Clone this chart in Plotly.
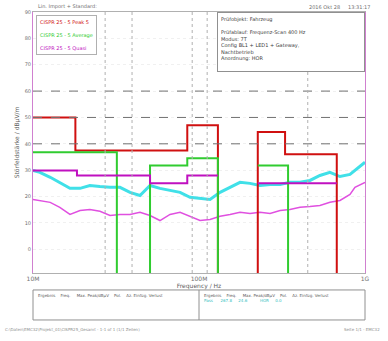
import plotly.graph_objects as go

# frequencies in MHz, levels in dBuV/m
peak_freq = [10, 11.0, 12.7, 14.5, 15.6, 16.7, 19.2, 22.0, 25.3, 29.1, 33.4, 38.4, 44.1, 50.7,
             58.2, 66.9, 76.9, 88.3, 101.4, 116.5, 133.9, 153.8, 176.7, 202.9, 233, 268,
             308, 353, 406, 466, 535, 615, 707, 812, 870, 1000]
peak_level = [29.9, 29.2, 27.3, 25.4, 24.2, 23.1, 23.1, 24.2, 23.8, 23.5, 23.5, 21.6, 20.4, 24.2,
              23.1, 22.3, 21.6, 19.7, 19.3, 18.9, 21.6, 23.5, 25.4, 25.0, 24.2, 24.6,
              24.6, 25.4, 25.4, 26.1, 28.0, 29.2, 27.6, 28.4, 29.9, 33.0]

avg_freq = [10, 11.0, 12.7, 14.5, 16.7, 19.2, 22.0, 25.3, 29.1, 33.4, 38.4, 44.1, 50.7, 58.2,
            66.9, 76.9, 88.3, 101.4, 116.5, 133.9, 153.8, 176.7, 202.9, 233, 268, 308,
            353, 406, 466, 535, 615, 707, 812, 870, 1000]
avg_level = [18.9, 18.5, 17.8, 15.9, 13.2, 14.7, 15.1, 14.4, 12.8, 13.2, 13.2, 14.0, 12.8, 10.9,
             13.2, 14.0, 12.5, 10.9, 11.3, 12.5, 13.2, 14.0, 13.6, 14.0, 13.6, 14.7,
             15.1, 15.9, 16.2, 16.6, 17.8, 18.5, 20.8, 23.5, 25.4]

# limit lines (None separates bands); -9 = drop to bottom of the plot
lim_pk_freq = [10, 18, 18, 85, 85, 130, 130, None, 226, 226, 330, 330, 676, 676]
lim_pk_level = [50, 50, 37.5, 37.5, 47, 47, -9, None, -9, 44.5, 44.5, 36, 36, -9]

lim_av_freq = [10, 32, 32, None, 50.7, 50.7, 85, 85, 130, 130, None, 226, 344, 344]
lim_av_level = [36.8, 36.8, -9, None, -9, 31.8, 31.8, 34.5, 34.5, -9, None, 31.8, 31.8, -9]

lim_qp_freq = [10, 18.4, 18.4, 50.7, 50.7, 85, 85, 130, None, 226, 676]
lim_qp_level = [29.9, 29.9, 28, 28, 25, 25, 28, 28, None, 25, 25]

limit_names = ["CISPR 25 - 5 Peak 5", "CISPR 25 - 5 Average", "CISPR 25 - 5 Quasi"]
limit_colors = ["#d01010", "#30cc30", "#c010c0"]

ref_levels = [60, 50, 40]
marker_freqs = [27.2, 39.5, 91, 112, 452]

x_ticks = [10, 100, 1000]
x_ticktext = ["10M", "100M", "1G"]
y_ticks = [0, 10, 20, 30, 40, 50, 60, 70, 80, 90]

fig = go.Figure()

fig.add_trace(go.Scatter(x=peak_freq, y=peak_level, mode="lines",
                         line=dict(color="#40e0e8", width=3), showlegend=False))
fig.add_trace(go.Scatter(x=avg_freq, y=avg_level, mode="lines",
                         line=dict(color="#e050e0", width=1.5), showlegend=False))

limits = [(lim_pk_freq, lim_pk_level), (lim_av_freq, lim_av_level), (lim_qp_freq, lim_qp_level)]
for (fx, fy), name, col in zip(limits, limit_names, limit_colors):
    fig.add_trace(go.Scatter(x=fx, y=fy, mode="lines", line=dict(color=col, width=2),
                             name=name, showlegend=False))

for lv in ref_levels:
    fig.add_hline(y=lv, line=dict(color="#707070", width=1, dash="dash"))
for f in marker_freqs:
    fig.add_vline(x=f, line=dict(color="#b0b0b0", width=1, dash="dot"))

fig.update_xaxes(type="log", range=[1, 3], tickvals=x_ticks, ticktext=x_ticktext,
                 showgrid=False, showline=True, linecolor="#b0b0b0", mirror=True,
                 ticks="", tickfont=dict(size=6, color="#707070"), ticklabelstandoff=0,
                 automargin=False,
                 title=dict(text="Frequency / Hz", font=dict(size=6, color="#606060"),
                            standoff=0))
fig.update_yaxes(range=[-9, 90], tickvals=y_ticks, showgrid=True, gridcolor="#f0f0f0",
                 griddash="dot", zeroline=False, showline=True, linecolor="#d080d0",
                 mirror=True, ticks="", tickfont=dict(size=5, color="#707070"),
                 automargin=False,
                 title=dict(text="Störfeldstärke / dBµV/m", font=dict(size=6, color="#606060"),
                            standoff=4))

# legend box drawn as text
leg_text = "<br><br>".join(f"<span style='color:{c}'>{n}</span>"
                           for n, c in zip(limit_names, limit_colors))
fig.add_annotation(xref="paper", yref="paper", x=0.01, y=0.99, xanchor="left", yanchor="top",
                   align="left", showarrow=False, bgcolor="white", bordercolor="#b0b0b0",
                   borderwidth=1, borderpad=3, font=dict(size=5), text=leg_text)

fig.add_annotation(xref="paper", yref="paper", x=1.0, y=1.0, xanchor="right", yanchor="top",
                   align="left", showarrow=False, bgcolor="white", bordercolor="#909090",
                   borderwidth=1, borderpad=3, width=140, font=dict(size=5, color="#404040"),
                   text="Prüfobjekt: Fahrzeug<br><br>Prüfablauf: Frequenz-Scan 400 Hz<br>"
                        "Modus: 7T<br>Config BL1 + LED1 + Gateway,<br>Nachtbetrieb<br>"
                        "Anordnung: HOR<br> ")
fig.add_annotation(xref="paper", yref="paper", x=1.02, y=1.0, xanchor="right", yanchor="bottom",
                   showarrow=False, font=dict(size=5, color="#707070"),
                   text="2016 Okt 28     13:31:17")
fig.add_annotation(xref="paper", yref="paper", x=0.01, y=1.0, xanchor="left", yanchor="bottom",
                   showarrow=False, font=dict(size=5, color="#707070"),
                   text="Lin. Import + Standard:")

# result table below the plot
fig.add_shape(type="rect", xref="paper", yref="paper", x0=0, x1=1, y0=-0.18, y1=-0.065,
              line=dict(color="#909090", width=1))
fig.add_shape(type="line", xref="paper", yref="paper", x0=0.5, x1=0.5, y0=-0.18, y1=-0.065,
              line=dict(color="#909090", width=1))
hdr = "Ergebnis    Freq.     Max. Peak/dBµV    Pol.    Az. Einfüg. Verlust"
fig.add_annotation(xref="paper", yref="paper", x=0.01, y=-0.07, xanchor="left", yanchor="top",
                   showarrow=False, font=dict(size=4, color="#606060"), text=hdr)
fig.add_annotation(xref="paper", yref="paper", x=0.51, y=-0.07, xanchor="left", yanchor="top",
                   align="left", showarrow=False, font=dict(size=4, color="#606060"),
                   text=hdr + "<br><span style='color:#30c0c0'>Pass      267.8     24.6          HOR     0.0</span>")
fig.add_annotation(xref="paper", yref="paper", x=-0.09, y=-0.2, xanchor="left", yanchor="top",
                   showarrow=False, font=dict(size=4, color="#909090"),
                   text="C:\\Daten\\EMC32\\Projekt_01\\CISPR25_Gesamt - 1-1 of 1 (1/1 Zeilen)")
fig.add_annotation(xref="paper", yref="paper", x=1.05, y=-0.2, xanchor="right", yanchor="top",
                   showarrow=False, font=dict(size=4, color="#909090"), text="Seite 1/1 - EMC32")

fig.update_layout(
    width=388, height=341,
    margin=dict(l=33, r=23, t=12, b=68),
    paper_bgcolor="white", plot_bgcolor="white",
    font=dict(family="DejaVu Sans"),
    showlegend=False,
)

fig.write_html("out.html", config={"displayModeBar": False},
               post_script="document.body.style.margin='0';")
